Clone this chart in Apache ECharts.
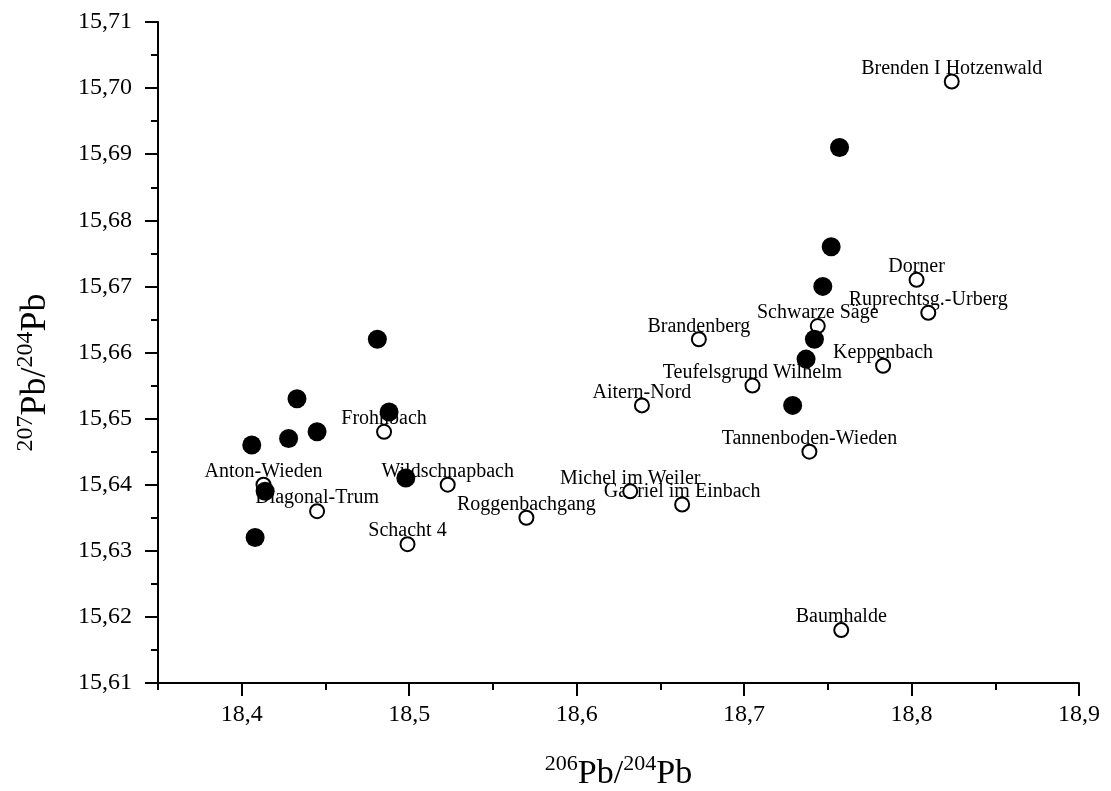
<!DOCTYPE html>
<html>
<head>
<meta charset="utf-8">
<script src="https://cdn.jsdelivr.net/npm/echarts@6/dist/echarts.min.js"></script>
<style>
  html, body { margin: 0; padding: 0; background: #fff; }
  #chart { width: 1111px; height: 791px; }
</style>
</head>
<body>
<div id="chart"></div>
<script>
var font = "'Liberation Serif', 'Times New Roman', serif"

// filled circles (no labels)
var filledX = [18.481, 18.433, 18.488, 18.445, 18.428, 18.406, 18.414, 18.498, 18.408, 18.742, 18.737, 18.729, 18.757, 18.752, 18.747]
var filledY = [15.662, 15.653, 15.651, 15.648, 15.647, 15.646, 15.639, 15.641, 15.632, 15.662, 15.659, 15.652, 15.691, 15.676, 15.670]

// open circles with site names
var siteNames = ['Brenden I Hotzenwald', 'Dorner', 'Ruprechtsg.-Urberg', 'Schwarze Säge', 'Brandenberg', 'Keppenbach',
  'Teufelsgrund Wilhelm', 'Aitern-Nord', 'Frohnbach', 'Tannenboden-Wieden', 'Anton-Wieden', 'Wildschnapbach',
  'Michel im Weiler', 'Gabriel im Einbach', 'Diagonal-Trum', 'Roggenbachgang', 'Schacht 4', 'Baumhalde']
var siteX = [18.824, 18.803, 18.810, 18.744, 18.673, 18.783, 18.705, 18.639, 18.485, 18.739, 18.413, 18.523, 18.632, 18.663, 18.445, 18.570, 18.499, 18.758]
var siteY = [15.701, 15.671, 15.666, 15.664, 15.662, 15.658, 15.655, 15.652, 15.648, 15.645, 15.640, 15.640, 15.639, 15.637, 15.636, 15.635, 15.631, 15.618]

var xMajorTicks = [18.4, 18.5, 18.6, 18.7, 18.8, 18.9]
var xMinorTicks = [18.35, 18.45, 18.55, 18.65, 18.75, 18.85]

var filledData = filledX.map(function (x, i) { return [x, filledY[i]] })
var siteData = siteX.map(function (x, i) { return { name: siteNames[i], value: [x, siteY[i]] } })

var comma = function (v, d) { return v.toFixed(d).replace('.', ',') }

var chart = echarts.init(document.getElementById('chart'))

function titleRich(big, sup) {
  return {
    sup: { fontFamily: font, fontSize: sup, color: '#000', verticalAlign: 'top', lineHeight: big + 4 },
    big: { fontFamily: font, fontSize: big, color: '#000', verticalAlign: 'bottom', lineHeight: big + 4 }
  }
}

var baseX = {
  type: 'value',
  min: 18.35,
  max: 18.9,
  position: 'bottom',
  splitLine: { show: false }
}

var option = {
  animation: false,
  backgroundColor: '#fff',
  grid: { left: 158, right: 32, top: 22, bottom: 108, containLabel: false, outerBoundsMode: 'none' },
  xAxis: [
    Object.assign({}, baseX, {
      name: '{sup|206}{big|Pb/}{sup|204}{big|Pb}',
      nameLocation: 'middle',
      nameGap: 70,
      nameTextStyle: { rich: titleRich(34, 22) },
      axisLine: { show: true, onZero: false, lineStyle: { color: '#000', width: 2 } },
      axisTick: { show: true, customValues: xMajorTicks, length: 13, lineStyle: { color: '#000', width: 2 } },
      axisLabel: {
        customValues: xMajorTicks,
        margin: 20,
        fontFamily: font,
        fontSize: 24,
        color: '#000',
        formatter: function (v) { return comma(v, 1) }
      }
    }),
    Object.assign({}, baseX, {
      axisLine: { show: false },
      axisTick: { show: true, customValues: xMinorTicks, length: 7, lineStyle: { color: '#000', width: 2 } },
      axisLabel: { show: false }
    })
  ],
  yAxis: {
    type: 'value',
    min: 15.61,
    max: 15.71,
    interval: 0.01,
    name: '{sup|207}{big|Pb/}{sup|204}{big|Pb}',
    nameLocation: 'middle',
    nameRotate: 90,
    nameGap: 104,
    nameTextStyle: { rich: titleRich(36, 24), padding: [0, 40, 0, 0] },
    axisLine: { show: true, onZero: false, lineStyle: { color: '#000', width: 2 } },
    axisTick: { show: true, length: 13, lineStyle: { color: '#000', width: 2 } },
    minorTick: { show: true, splitNumber: 2, length: 7, lineStyle: { color: '#000', width: 2 } },
    splitLine: { show: false },
    axisLabel: {
      margin: 26,
      fontFamily: font,
      fontSize: 24,
      color: '#000',
      formatter: function (v) { return comma(v, 2) }
    }
  },
  series: [
    {
      // labels only, drawn under the circles
      name: 'labels',
      type: 'scatter',
      z: 1,
      silent: true,
      symbolSize: 1,
      itemStyle: { color: 'transparent' },
      label: {
        show: true,
        position: 'inside',
        offset: [0, -13],
        formatter: '{b}',
        fontFamily: font,
        fontSize: 20,
        color: '#000',
        opacity: 1
      },
      data: siteData
    },
    {
      name: 'open',
      type: 'scatter',
      z: 2,
      symbol: 'circle',
      symbolSize: 14,
      itemStyle: { color: '#fff', borderColor: '#000', borderWidth: 2, opacity: 1 },
      data: siteData
    },
    {
      name: 'filled',
      type: 'scatter',
      z: 3,
      symbol: 'circle',
      symbolSize: 19,
      itemStyle: { color: '#000', opacity: 1 },
      data: filledData
    }
  ]
}

chart.setOption(option)
</script>
</body>
</html>
